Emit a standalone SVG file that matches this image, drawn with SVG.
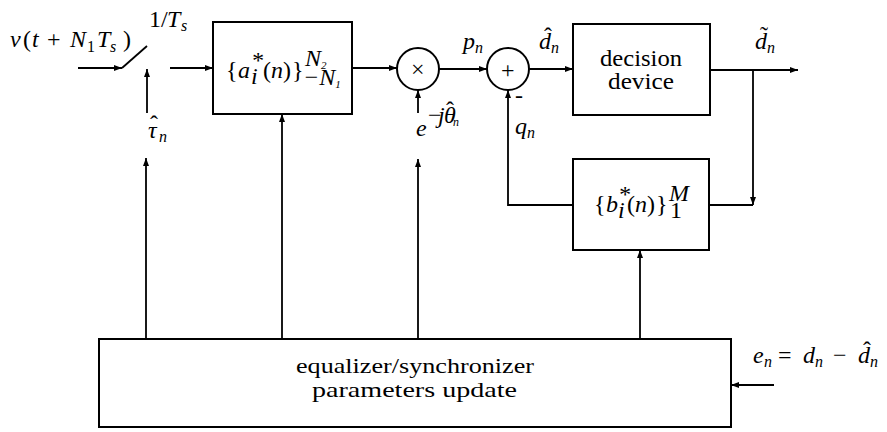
<svg xmlns="http://www.w3.org/2000/svg" width="887" height="432" viewBox="0 0 887 432">
<style>
.bx{fill:none;stroke:#000;stroke-width:2}
.ln{fill:none;stroke:#000;stroke-width:1.8}
.f{font-family:"Liberation Serif",serif;fill:#000;font-size:24px}
.m{font-style:italic}
.sb{font-size:16px}
.rm{font-size:22px}
</style>
<defs>
<marker id="ah" markerUnits="userSpaceOnUse" markerWidth="9" markerHeight="8" refX="8" refY="4" orient="auto">
<path d="M0,1 L8,4 L0,7 Z" fill="#000"/>
</marker>
</defs>
<rect width="887" height="432" fill="#fff"/>

<g id="connectors">
<line class="ln" marker-end="url(#ah)" x1="78" y1="68" x2="122" y2="68"/>
<line class="ln" x1="122" y1="68" x2="147" y2="46"/>
<line class="ln" marker-end="url(#ah)" x1="147" y1="113" x2="147" y2="69"/>
<line class="ln" marker-end="url(#ah)" x1="170" y1="68" x2="213" y2="68"/>
<line class="ln" marker-end="url(#ah)" x1="352" y1="68" x2="397" y2="68"/>
<line class="ln" marker-end="url(#ah)" x1="418" y1="113" x2="418" y2="90"/>
<line class="ln" marker-end="url(#ah)" x1="439" y1="69" x2="487" y2="69"/>
<line class="ln" marker-end="url(#ah)" x1="529" y1="69" x2="573" y2="69"/>
<line class="ln" marker-end="url(#ah)" x1="710" y1="70" x2="798" y2="70"/>
<line class="ln" marker-end="url(#ah)" x1="753" y1="70" x2="753" y2="205"/>
<polyline class="ln" points="753,205 709,205"/>
<polyline class="ln" marker-end="url(#ah)" points="573,205 508,205 508,90"/>
<line class="ln" marker-end="url(#ah)" x1="146" y1="339" x2="146" y2="158"/>
<line class="ln" marker-end="url(#ah)" x1="282" y1="339" x2="282" y2="114"/>
<line class="ln" marker-end="url(#ah)" x1="418" y1="339" x2="418" y2="159"/>
<line class="ln" marker-end="url(#ah)" x1="640" y1="339" x2="640" y2="250"/>
<line class="ln" marker-end="url(#ah)" x1="774" y1="385" x2="731" y2="385"/>
</g>

<g id="input-label">
<text class="f" style="font-family:'Liberation Serif',serif" y="47"><tspan class="m" x="10">v</tspan><tspan x="23">(</tspan><tspan class="m" x="32">t</tspan><tspan x="47">+</tspan><tspan class="m" x="70">N</tspan><tspan class="sb" x="87" dy="5">1</tspan><tspan class="m" x="97" dy="-5">T</tspan><tspan class="m sb" x="110" dy="5">s</tspan><tspan x="123" dy="-5">)</tspan></text>
</g>

<g id="sampler-label">
<text class="f" style="font-family:'Liberation Serif',serif" y="27"><tspan x="149">1/</tspan><tspan class="m" x="167">T</tspan><tspan class="m sb" x="181" dy="4">s</tspan></text>
<text class="f m" style="font-family:'Liberation Serif',serif" y="138"><tspan x="148">&#964;</tspan><tspan class="sb" x="159" dy="4">n</tspan></text>
<text class="f" style="font-family:'Liberation Serif',serif" x="150" y="132" font-size="18">&#710;</text>
</g>

<g id="ff-filter">
<rect class="bx" x="213" y="22" width="139" height="92"/>
<text class="f" style="font-family:'Liberation Serif',serif" y="78"><tspan x="226">{</tspan><tspan class="m" x="238">a</tspan><tspan x="263">(</tspan><tspan class="m" x="271">n</tspan><tspan x="283">)</tspan><tspan x="292">}</tspan></text>
<text class="f m" style="font-family:'Liberation Serif',serif" x="251" y="68" font-size="15">*</text>
<text class="f m" style="font-family:'Liberation Serif',serif" x="251" y="84" font-size="13">i</text>
<text class="f m" style="font-family:'Liberation Serif',serif" x="305" y="66" font-size="15">N<tspan font-size="11" dy="3">2</tspan></text>
<text class="f m" style="font-family:'Liberation Serif',serif" x="303" y="85" font-size="15">&#8722;N<tspan font-size="11" dy="3">1</tspan></text>
</g>

<g id="multiplier">
<circle class="bx" cx="418" cy="69" r="21"/>
<text class="f" style="font-family:'Liberation Serif',serif" x="411" y="77">&#215;</text>
<text class="f m" style="font-family:'Liberation Serif',serif" x="416" y="136">e</text>
<text class="f" style="font-family:'Liberation Serif',serif" y="123" font-size="16"><tspan x="428">&#8722;</tspan><tspan class="m" x="438">j</tspan><tspan class="m" x="444">&#952;</tspan><tspan class="m" x="453" dy="3" font-size="12">n</tspan></text>
<text class="f" style="font-family:'Liberation Serif',serif" x="446" y="118" font-size="14">&#710;</text>
</g>

<g id="adder">
<circle class="bx" cx="508" cy="69" r="21"/>
<text class="f" style="font-family:'Liberation Serif',serif" x="501" y="78" font-size="26">+</text>
<text class="f" style="font-family:'Liberation Serif',serif" x="515" y="103" font-size="18">-</text>
<text class="f m" style="font-family:'Liberation Serif',serif" y="49"><tspan x="463">p</tspan><tspan class="sb" x="475" dy="4">n</tspan></text>
<text class="f m" style="font-family:'Liberation Serif',serif" y="134"><tspan x="515">q</tspan><tspan class="sb" x="527" dy="4">n</tspan></text>
<text class="f m" style="font-family:'Liberation Serif',serif" y="49"><tspan x="539">d</tspan><tspan class="sb" x="551" dy="4">n</tspan></text>
<text class="f" style="font-family:'Liberation Serif',serif" x="544" y="44" font-size="18">&#710;</text>
</g>

<g id="decision">
<rect class="bx" x="573" y="24" width="137" height="91"/>
<text class="f" style="font-family:'Liberation Serif',serif" x="600" y="66" font-size="23" textLength="82" lengthAdjust="spacingAndGlyphs">decision</text>
<text class="f" style="font-family:'Liberation Serif',serif" x="608" y="89" font-size="23" textLength="66" lengthAdjust="spacingAndGlyphs">device</text>
<text class="f m" style="font-family:'Liberation Serif',serif" y="49"><tspan x="755">d</tspan><tspan class="sb" x="767" dy="4">n</tspan></text>
<text class="f" style="font-family:'Liberation Serif',serif" x="760" y="43" font-size="18">&#732;</text>
</g>

<g id="fb-filter">
<rect class="bx" x="573" y="159" width="136" height="91"/>
<text class="f" style="font-family:'Liberation Serif',serif" y="212"><tspan x="594">{</tspan><tspan class="m" x="606">b</tspan><tspan x="627">(</tspan><tspan class="m" x="635">n</tspan><tspan x="647">)</tspan><tspan x="656">}</tspan></text>
<text class="f m" style="font-family:'Liberation Serif',serif" x="618" y="202" font-size="15">*</text>
<text class="f m" style="font-family:'Liberation Serif',serif" x="618" y="218" font-size="13">i</text>
<text class="f m" style="font-family:'Liberation Serif',serif" x="669" y="201" font-size="15">M</text>
<text class="f" style="font-family:'Liberation Serif',serif" x="670" y="218" font-size="15">1</text>
</g>

<g id="update">
<rect class="bx" x="99" y="339" width="632" height="88"/>
<text class="f rm" style="font-family:'Liberation Serif',serif" x="296" y="373" textLength="238" lengthAdjust="spacingAndGlyphs">equalizer/synchronizer</text>
<text class="f rm" style="font-family:'Liberation Serif',serif" x="312" y="397" textLength="205" lengthAdjust="spacingAndGlyphs">parameters update</text>
</g>

<g id="error-label">
<text class="f" style="font-family:'Liberation Serif',serif" y="363"><tspan class="m" x="753">e</tspan><tspan class="m sb" x="764" dy="4">n</tspan><tspan x="778" dy="-4">=</tspan><tspan class="m" x="803">d</tspan><tspan class="m sb" x="815" dy="4">n</tspan><tspan x="833" dy="-4">&#8722;</tspan><tspan class="m" x="858">d</tspan><tspan class="m sb" x="870" dy="4">n</tspan></text>
<text class="f" style="font-family:'Liberation Serif',serif" x="863" y="358" font-size="18">&#710;</text>
</g>
</svg>
